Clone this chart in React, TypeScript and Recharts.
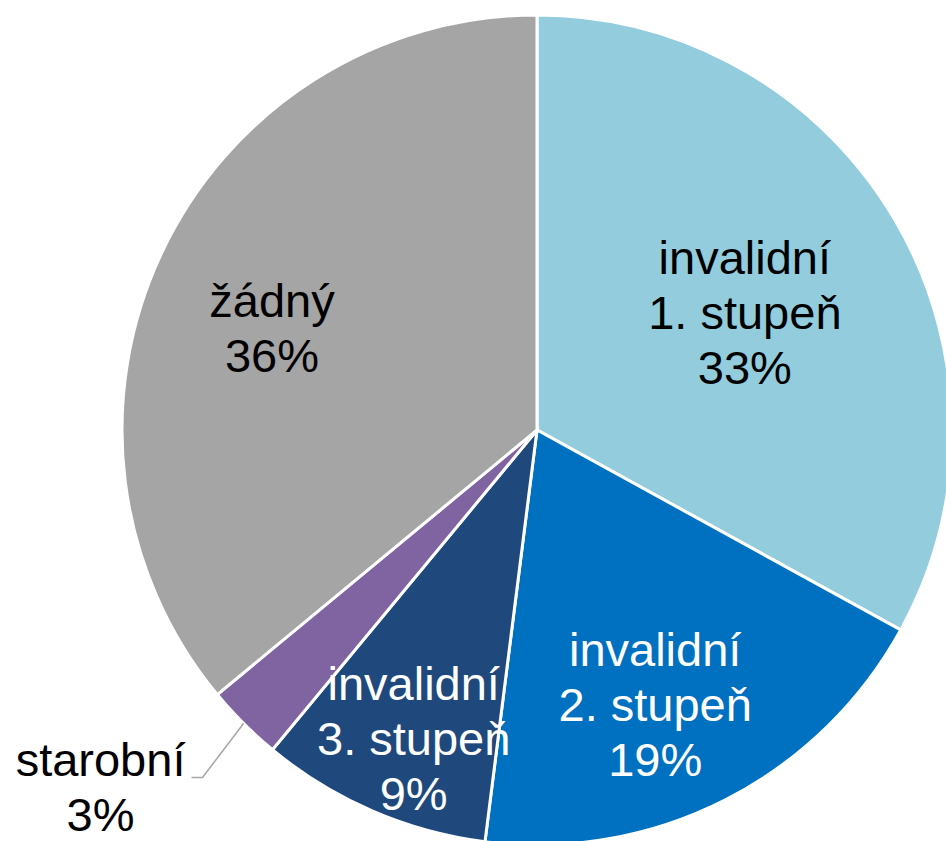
import { PieChart, Pie, Cell } from "recharts";

const categories = [
  "invalidní 1. stupeň",
  "invalidní 2. stupeň",
  "invalidní 3. stupeň",
  "starobní",
  "žádný",
];
const shares = [33, 19, 9, 3, 36];
const colors = ["#93CDDD", "#0070C0", "#1F497D", "#8064A2", "#A5A5A5"];
const textColors = ["#000", "#fff", "#fff", "#000", "#000"];

// label placement inside slice: radius fraction + small angle nudge (deg)
const labelPos = [
  { rf: 0.576, da: -1 },
  { rf: 0.72, da: -3.7 },
  { rf: 0.8, da: 1.6 },
  { rf: 1, da: 0 },
  { rf: 0.685, da: 4 },
];

const rows = categories.map((name, i) => ({ name, value: shares[i] }));

const RAD = Math.PI / 180;
const FONT = 47;
const LINE = 55;
const CAP = 17;

function splitName(name: string) {
  const k = name.indexOf(" ");
  return k > 0 && name.includes(". ") ? [name.slice(0, k), name.slice(k + 1)] : [name];
}

function renderLabel(props: any) {
  const { cx, cy, midAngle, outerRadius, index, percent, name } = props;
  const lines = [...splitName(name), `${Math.round(percent * 100)}%`];
  const fill = textColors[index];

  if (index === 3) {
    // outside label with leader line
    const sx = cx + outerRadius * Math.cos(-midAngle * RAD);
    const sy = cy + outerRadius * Math.sin(-midAngle * RAD);
    const ex = sx - 41;
    const ey = sy + 54;
    const hx = ex - 11;
    const tx = hx - 91;
    return (
      <g>
        <path
          d={`M${sx},${sy}L${ex},${ey}L${hx},${ey}`}
          stroke="#A6A6A6"
          strokeWidth={1.5}
          fill="none"
        />
        <text
          textAnchor="middle"
          fill={fill}
          fontSize={FONT}
          fontFamily="'Liberation Sans', Arial, sans-serif"
        >
          {lines.map((t, j) => (
            <tspan key={j} x={tx} y={ey - 1 + j * LINE}>
              {t}
            </tspan>
          ))}
        </text>
      </g>
    );
  }

  const p = labelPos[index];
  const a = (midAngle + p.da) * RAD;
  const r = outerRadius * p.rf;
  const x = cx + r * Math.cos(-a);
  const y = cy + r * Math.sin(-a);
  const first = y - ((lines.length - 1) * LINE) / 2 + CAP;
  return (
    <text
      textAnchor="middle"
      fill={fill}
      fontSize={FONT}
      fontFamily="'Liberation Sans', Arial, sans-serif"
    >
      {lines.map((t, j) => (
        <tspan key={j} x={x} y={first + j * LINE}>
          {t}
        </tspan>
      ))}
    </text>
  );
}

export default function App() {
  return (
    <div style={{ position: "absolute", left: 0, top: 0, background: "#fff" }}>
      <PieChart
        width={946}
        height={841}
        margin={{ top: 0, right: 0, bottom: 0, left: 0 }}
      >
        <Pie
          data={rows}
          dataKey="value"
          nameKey="name"
          cx={537}
          cy={430}
          outerRadius={415}
          startAngle={90}
          endAngle={-270}
          stroke="#fff"
          strokeWidth={3}
          label={renderLabel}
          labelLine={false}
          isAnimationActive={false}
        >
          {rows.map((r, i) => (
            <Cell key={r.name} fill={colors[i]} />
          ))}
        </Pie>
      </PieChart>
    </div>
  );
}
